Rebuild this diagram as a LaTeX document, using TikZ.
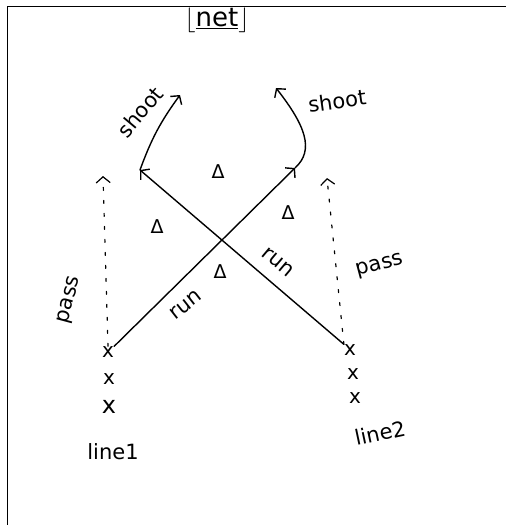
\documentclass[tikz,border=0pt]{standalone}
\usepackage{fontspec}
\setmainfont{DejaVu Sans}
\usetikzlibrary{arrows.meta,positioning}
\tikzset{
  >={Straight Barb[length=6pt,width=14pt]},
  hand/.style={line width=1.4pt, line cap=round, line join=round},
  player/.style={inner sep=0pt, font=\fontsize{20}{20}\selectfont},
  defender/.style={inner sep=0pt, font=\fontsize{19}{19}\selectfont},
  lbl/.style={inner sep=0pt, font=\fontsize{21}{24}\selectfont},
  passline/.style={hand, line width=1.2pt, dash pattern=on 3pt off 10pt},
}
\begin{document}
\begin{tikzpicture}[x=1pt,y=-1pt]
\useasboundingbox (0,0) rectangle (506,525);
\draw[line width=1pt] (7,525) -- (7,6) -- (506,6);

\node[lbl, font=\fontsize{26}{28}\selectfont] (title) at (217,20) {$\lfloor$\underline{net}$\rfloor$};

% line 1
\node[player] (a1) at (108,352) {x};
\node[player] (a2) at (109,379) {x};
\node[player, font=\fontsize{24}{24}\selectfont] (a3) at (109,407) {x};
\node[lbl] (line1) at (113,452) {line1};

% line 2
\node[player] (b1) at (350,350) {x};
\node[player] (b2) at (353,374) {x};
\node[player] (b3) at (355,398) {x};
\node[lbl, rotate=12] (line2) at (380,433) {line2};

% defenders
\node[defender] (d1) at (218,172) {Δ};
\node[defender] (d2) at (157,227) {Δ};
\node[defender] (d3) at (288,213) {Δ};
\node[defender] (d4) at (220,272) {Δ};

\coordinate (p1) at (103,176);
\coordinate (p2) at (327,178);
\coordinate (r1) at (295,168);
\coordinate (r2) at (140,170);
\coordinate (s1) at (180,95);
\coordinate (s2) at (276,88);

% passes
\draw[passline,->] (a1.north) -- (p1);
\draw[passline,->] (b1.north west) -- (p2);
\node[lbl, rotate=75] (pass1) at (70,300) {pass};
\node[lbl, rotate=15] (pass2) at (380,266) {pass};

% runs
\draw[hand,->] (a1.north east) -- (r1);
\draw[hand,->] (b1.north west) -- (r2);
\node[lbl, rotate=38] (run1) at (186,305) {run};
\node[lbl, rotate=-40] (run2) at (278,262) {run};

% shots
\draw[hand,->] (r2) to[bend left=8] (s1);
\draw[hand,->] (r1) .. controls (315,150) and (305,125) .. (s2);
\node[lbl, rotate=50] (shoot1) at (140,112) {shoot};
\node[lbl, rotate=8] (shoot2) at (337,101) {shoot};
\end{tikzpicture}
\end{document}
